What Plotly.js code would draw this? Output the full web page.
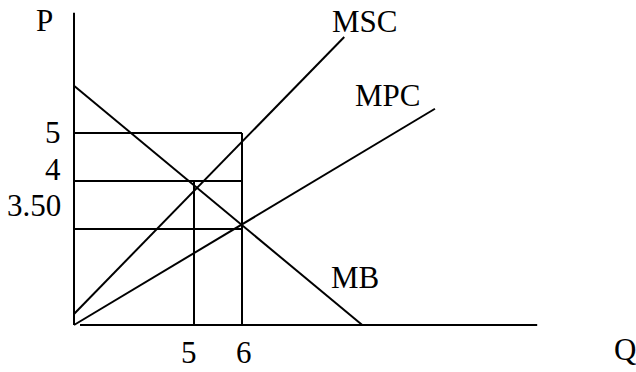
<!DOCTYPE html>
<html>
<head>
<meta charset="utf-8">
<script src="https://cdn.plot.ly/plotly-3.0.1.min.js"></script>
<style>html,body{margin:0;padding:0;background:#fff;}#chart{width:636px;height:372px;}</style>
</head>
<body>
<div id="chart"></div>
<script>
// Diagram values in sketch units (origin at the axes corner)
var axisLabels = ['P', 'Q'];
var curveNames = ['MSC', 'MPC', 'MB'];
var mscX = [0, 11.26];
var mscY = [0.46, 12.0];
var mpcX = [0, 15.04];
var mpcY = [0, 9.01];
var mbX = [0, 12.01];
var mbY = [9.97, 0];
var priceLevels = [8, 6, 4];          // drawn heights of the price guide lines
var priceLabels = ['5', '4', '3.50'];
var quantityLevels = [5, 7];          // drawn positions of the quantity guide lines
var quantityLabels = ['5', '6'];
var guideEndX = [7, 7, 7];            // price guides run to the Q=6 line
var vAxisTop = 13.01;
var hAxisStart = 0.25;
var hAxisEnd = 19.3;

var lineStyle = {color: '#000', width: 2};
var traces = [];
function seg(xs, ys) {
  traces.push({x: xs, y: ys, mode: 'lines', line: lineStyle, hoverinfo: 'skip', showlegend: false, cliponaxis: false});
}
// axes
seg([0, 0], [0, vAxisTop]);
seg([hAxisStart, hAxisEnd], [0, 0]);
// price guides
for (var i = 0; i < priceLevels.length; i++) seg([0, guideEndX[i]], [priceLevels[i], priceLevels[i]]);
// quantity guides
seg([quantityLevels[0], quantityLevels[0]], [0, priceLevels[1]]);
seg([quantityLevels[1], quantityLevels[1]], [0, priceLevels[0]]);
// curves
seg(mscX, mscY);
seg(mpcX, mpcY);
seg(mbX, mbY);

// text placement (pixel-based positions converted to sketch units)
var font = {family: 'Liberation Serif, Times New Roman, serif', size: 31, color: '#000'};
function ann(text, x, y, xa) {
  return {text: text, x: x, y: y, xref: 'x', yref: 'y', showarrow: false, xanchor: xa || 'center', yanchor: 'middle', font: font};
}
var priceLabelY = [8.04, 6.5, 4.98];
var quantityLabelX = [4.79, 7.08];
var annotations = [
  ann(axisLabels[0], -1.23, 12.67),
  ann(axisLabels[1], 22.96, -1.04),
  ann(curveNames[0], 12.10, 12.64),
  ann(curveNames[1], 13.06, 9.56),
  ann(curveNames[2], 11.69, 1.96)
];
for (var j = 0; j < priceLabels.length; j++) annotations.push(ann(priceLabels[j], -0.44, priceLabelY[j], 'right'));
for (var k = 0; k < quantityLabels.length; k++) annotations.push(ann(quantityLabels[k], quantityLabelX[k], -1.15));

var layout = {
  width: 636, height: 372,
  margin: {l: 0, r: 0, t: 0, b: 0},
  paper_bgcolor: '#fff', plot_bgcolor: '#fff',
  font: {family: 'Liberation Serif, Times New Roman, serif'},
  xaxis: {range: [-74/24, 562/24], visible: false, fixedrange: true},
  yaxis: {range: [-47/24, 325/24], visible: false, fixedrange: true},
  annotations: annotations,
  showlegend: false
};
Plotly.newPlot('chart', traces, layout, {staticPlot: true, displayModeBar: false});
</script>
</body>
</html>
